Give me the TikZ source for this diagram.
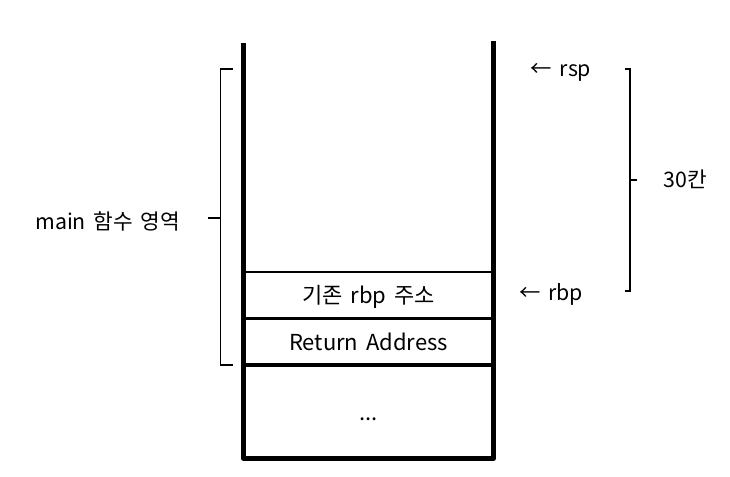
\documentclass[tikz,border=0pt]{standalone}
\usepackage{fontspec}
\setmainfont[WordSpace=1.6]{Noto Sans CJK KR}
\usetikzlibrary{calc}
\tikzset{
 wall/.style={line width=3.8pt,line join=round},
 divider/.style={line width=#1},
 brack/.style={line width=1.5pt},
 celltext/.style={font=\fontsize{16.5}{18}\selectfont,inner sep=0,anchor=base},
 sidetext/.style={font=\fontsize{16}{18}\selectfont,inner sep=0,anchor=base}
}
\begin{document}
\begin{tikzpicture}[x=0.75pt,y=-0.75pt]
\path[use as bounding box] (0,0) rectangle (730,477);
% stack walls
\coordinate (LT) at (243.5,43);
\coordinate (LB) at (243.5,458.5);
\coordinate (RT) at (493.5,41);
\coordinate (RB) at (493.5,458.5);
\draw[wall] (LT) -- (LB) -- (RB) -- (RT);
% cell dividers
\coordinate (A1) at (243.5,272);
\coordinate (A2) at (493.5,272);
\coordinate (B1) at (243.5,318.5);
\coordinate (B2) at (493.5,318.5);
\coordinate (C1) at (243.5,365);
\coordinate (C2) at (493.5,365);
\draw[divider=1.3pt] (A1) -- (A2);
\draw[divider=2pt] (B1) -- (B2);
\draw[divider=2.6pt] (C1) -- (C2);
\node[celltext] (oldrbp) at (368.5,303) {기존 rbp 주소};
\node[celltext] (retaddr) at (368.5,350) {Return Address};
\node[celltext] (rest) at (368.5,420) {...};
% main frame bracket
\coordinate (MT) at (220.5,69);
\coordinate (MB) at (220.5,365);
\draw[brack,line width=1.3pt] ($(MT)+(12,0)$) -- (MT) -- (MB) -- ($(MB)+(12,0)$);
\draw[brack,line width=1.3pt] (220.5,218) -- (208,218);
\node[sidetext] (mainlbl) at (107.5,229) {main 함수 영역};
% 30 slot bracket
\coordinate (ST) at (630,69);
\coordinate (SB) at (630,291);
\draw[brack] ($(ST)+(-5,0)$) -- (ST) -- (SB) -- ($(SB)+(-5,0)$);
\draw[brack] (630,180) -- (637,180);
\node[sidetext] (slots) at (685,188) {30칸};
% pointers
\node[sidetext] (rsp) at (561,77) {← rsp};
\node[sidetext] (rbp) at (551,300) {← rbp};
\end{tikzpicture}
\end{document}
